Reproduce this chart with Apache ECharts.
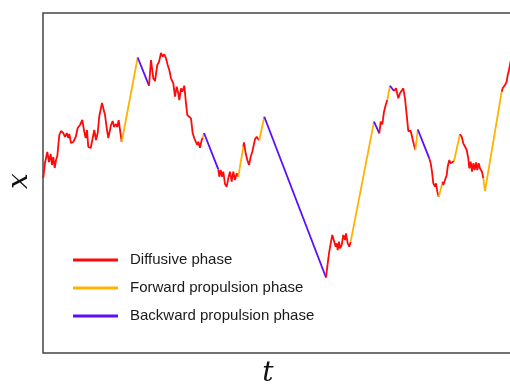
<!DOCTYPE html>
<html>
<head>
<meta charset="utf-8">
<script src="https://cdn.jsdelivr.net/npm/echarts@6/dist/echarts.min.js"></script>
<style>html,body{margin:0;padding:0;background:#fff}#c{width:510px;height:384px}</style>
</head>
<body>
<div id="c"></div>
<script>
// time coordinate of each sampled point
const tValues = [0.3,2,4.3,6,7.7,9,10.3,11.7,13,14.3,16.3,18,20.3,22,23.7,25.3,26.3,28,30.3,32.7,34.7,37,39.3,41.3,42.7,44,45.3,47.7,49.7,51.3,53,54.7,56.3,58,59,60.3,62,63.7,65.3,67,68,69.7,71,73,74.3,75.7,77,78.7,
  94.7,106,
  108,110.3,112,114.3,116,118,119.7,121.3,123,124.7,126.3,128,129.3,130.3,132,133.7,135.3,136.3,138,139.3,141.3,143,144.3,146.3,148,149.7,151.3,153,154.3,155.3,157,158.7,159.7,
  161,175.3,
  176.3,177.7,179,180.3,182,183.7,185.3,187,188.7,190.3,192,193.7,195.3,
  200.3,
  201,202.7,204.3,206,207.7,209.3,210.3,212,213.7,215.3,216.3,
  221.3,283,
  284.3,286,287.7,289.3,291,292.7,293.7,294.7,296,297,298.7,300.3,302,303,304.7,306.3,307.7,
  331,336.3,
  337.7,339.3,341,342.7,344.3,
  347,351,
  353,355.3,357,358.7,360.3,362,363.7,365.3,367.7,369.7,371,372.3,
  374.8,386.3,
  387.7,389,390.3,392,393,394.3,395.7,
  399.7,
  400.3,402,403.7,404.7,406.3,407.7,409.3,411,
  417,
  418.7,420.3,422,423.7,425.3,426.3,427.7,429,430.3,431.7,433,434.3,435.7,437,439,440.3,
  442,458.7,
  459.7,461,462,463.7,464.7,466,467.5,470];
// position x of each sampled point
const xValues = [175,190,201,191,199,188,196,185,193,197,218,222,220,216,220,215,219,210,211,216,225,228,233,221,215,223,206,205,215,223,213,220,237,245,250,248,238,225,215,216,228,232,226,229,226,233,223,211,
  295.5,267.3,
  293,274.7,272,288,291,300,296.3,298.7,294.7,288,283,274.7,276.3,269.7,256.3,266.3,259.7,253,264.7,261.3,267.3,249.7,238,236.3,234.7,219.7,214.7,213,208,211.3,205.3,213,215.3,
  220,183.7,
  176.3,183,176.3,181.3,169,166.3,174.7,181.3,171.3,181.3,173,179.7,176.3,
  206.3,
  210.7,199.7,193,188,196.3,201.3,199.7,213.7,216.3,213.7,213,
  236.3,75.5,
  86.3,99.7,109.7,118,118,106.3,109.7,103,111.3,104.7,108,118,113,119.7,109.7,106.3,111.3,
  231.3,219.7,
  231.3,228.7,241.3,248,253,
  267.3,262,
  264.7,254.7,259.7,261.3,264.7,254.7,238,222,222,220.7,208,203,
  223.5,194.7,
  189.7,181.3,169.7,166.3,169.7,161.3,156.3,
  171.3,
  168,173,178,186.3,193,189.7,191.3,192,
  218.7,
  216.3,209.7,211,203,194.7,184.7,191.3,181.3,189.7,183,190.7,183,189.7,184.7,181.3,174.7,
  162,261.3,
  264.7,266.3,268,271.3,278,283,291,301];
// index of the last point of each phase run, and the phase of that run
const runEnds = [47,48,49,82,83,84,97,98,109,110,111,128,129,130,135,136,137,149,150,151,158,159,167,168,184,186,194];
const runPhases = ['D','F','B','D','F','B','D','F','D','F','B','D','F','B','D','F','B','D','F','B','D','F','D','F','D','F','D'];
const phaseNames = {D:'Diffusive phase', F:'Forward propulsion phase', B:'Backward propulsion phase'};
const phaseColors = {D:'#ff0a0a', F:'#ffb300', B:'#5a0dff'};

const series = [];
let start = 0;
runEnds.forEach((end, k) => {
  const p = runPhases[k];
  const data = [];
  for (let i = start; i <= end; i++) data.push([tValues[i], xValues[i]]);
  series.push({
    type: 'line', name: phaseNames[p], data: data,
    showSymbol: false, symbol: 'none', smooth: false,
    lineStyle: {color: phaseColors[p], width: 1.8},
    itemStyle: {color: phaseColors[p]},
    z: 2, animation: false
  });
  start = end;
});

const chart = echarts.init(document.getElementById('c'), null, {renderer: 'canvas'});
chart.setOption({
  animation: false,
  backgroundColor: '#fff',
  grid: {left: 43, top: 13, width: 490, height: 340, outerBoundsMode: 'none', containLabel: false,
         show: true, borderColor: '#444', borderWidth: 1.5, backgroundColor: 'transparent'},
  xAxis: {type: 'value', min: 0, max: 490, axisLine: {show: false}, axisTick: {show: false}, axisLabel: {show: false}, splitLine: {show: false}},
  yAxis: {type: 'value', min: 0, max: 340, axisLine: {show: false}, axisTick: {show: false}, axisLabel: {show: false}, splitLine: {show: false}},
  legend: {
    data: ['Diffusive phase', 'Forward propulsion phase', 'Backward propulsion phase'],
    orient: 'vertical', left: 73, top: 252, padding: 0,
    icon: 'rect', itemWidth: 45, itemHeight: 3, itemGap: 12,
    textStyle: {fontFamily: 'Liberation Sans', fontSize: 15, color: '#1a1a1a', lineHeight: 16, padding: [0, 0, 0, 7]},
    selectedMode: false
  },
  graphic: [
    {type: 'text', x: 20, y: 181, rotation: Math.PI / 2,
     style: {text: 'x', font: 'italic 28px "DejaVu Serif"', fill: '#111', align: 'center', verticalAlign: 'middle'}},
    {type: 'text', x: 268, y: 374,
     style: {text: 't', font: 'italic 28px "DejaVu Serif"', fill: '#111', align: 'center', verticalAlign: 'middle'}}
  ],
  series: series
});
</script>
</body>
</html>
